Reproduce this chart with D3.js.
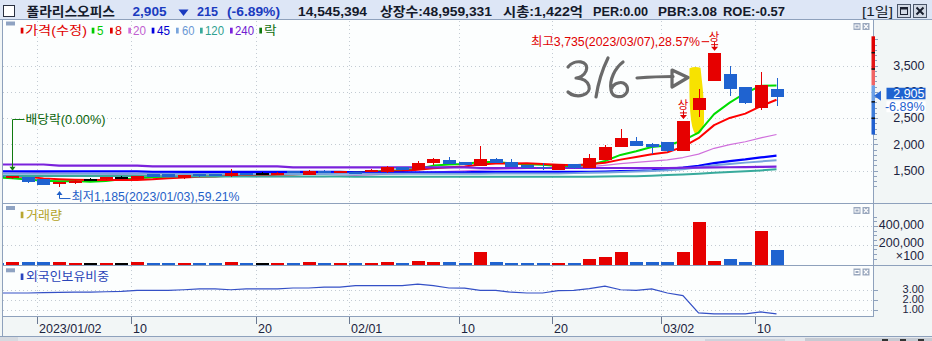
<!DOCTYPE html>
<html><head><meta charset="utf-8">
<script src="https://cdn.jsdelivr.net/npm/d3@7"></script>
<style>
html,body{margin:0;padding:0;background:#fff;overflow:hidden}
svg{display:block}
text{font-family:"Liberation Sans","Noto Sans CJK KR",sans-serif}
</style></head><body>
<svg id="c" width="932" height="341"></svg>
<script>
// ---------------- DATA ----------------
const dates = ["12/27","12/28","12/29","01/02","01/03","01/04","01/05","01/06","01/09","01/10","01/11","01/12","01/13","01/16","01/17","01/18","01/19","01/20","01/25","01/26","01/27","01/30","01/31","02/01","02/02","02/03","02/06","02/07","02/08","02/09","02/10","02/13","02/14","02/15","02/16","02/17","02/20","02/21","02/22","02/23","02/24","02/27","02/28","03/02","03/03","03/06","03/07","03/08","03/09","03/10","03/13"];
const open  = [1400,1355,1370,1330,1245,1260,1330,1335,1370,1345,1435,1430,1350,1425,1435,1390,1455,1445,1420,1495,1420,1495,1455,1470,1480,1470,1570,1510,1635,1700,1665,1590,1720,1670,1605,1565,1515,1620,1555,1700,1950,2060,2010,2045,1870,2650,3210,3340,3090,2695,3050];
const high  = [1420,1400,1375,1335,1290,1310,1365,1375,1395,1400,1440,1435,1410,1430,1440,1525,1460,1470,1480,1500,1510,1505,1500,1480,1520,1580,1575,1690,1740,1765,1670,1970,1740,1720,1610,1645,1630,1625,1815,1985,2290,2140,2015,2050,2435,3050,3735,3490,3090,3370,3255];
const low   = [1370,1340,1260,1220,1185,1250,1295,1325,1355,1340,1380,1380,1345,1385,1390,1385,1405,1420,1415,1445,1415,1455,1450,1425,1475,1460,1505,1505,1600,1620,1600,1585,1645,1570,1540,1510,1505,1535,1550,1695,1945,1960,1810,1860,1865,2525,3200,2920,2760,2650,2735];
const close = [1385,1395,1290,1225,1285,1300,1330,1370,1370,1395,1385,1385,1405,1390,1395,1455,1410,1445,1460,1450,1495,1460,1490,1430,1515,1570,1510,1650,1720,1625,1605,1720,1650,1575,1545,1550,1620,1545,1745,1950,2125,1970,1955,1870,2435,2875,3735,3045,2790,3120,2905];
const volume = [9000,15000,12000,14000,16000,9000,8000,10000,7000,11000,9000,8000,10000,7000,8000,14000,8000,6000,9000,8000,12000,8000,9000,7000,10000,16000,9000,22000,20000,11000,8000,119000,12000,6000,5000,6000,5000,5000,53000,74000,126000,21000,12000,12000,119000,442000,32000,53000,21000,347000,145454];
const ma5   = [1370,1350,1330,1305,1295,1299,1286,1302,1331,1353,1370,1381,1388,1392,1392,1406,1411,1419,1433,1444,1452,1462,1471,1465,1478,1493,1503,1535,1593,1615,1622,1664,1664,1635,1619,1608,1588,1567,1601,1682,1797,1867,1949,1974,2071,2221,2574,2792,2976,3113,3119];
const ma8   = [1395,1390,1375,1350,1335,1325,1320,1320,1321,1321,1333,1353,1368,1379,1387,1398,1403,1409,1418,1426,1438,1446,1458,1455,1468,1484,1490,1515,1543,1564,1578,1614,1631,1632,1636,1624,1611,1601,1619,1648,1707,1756,1808,1848,1949,2116,2364,2501,2584,2728,2847];
const ma20  = [1490,1480,1470,1460,1452,1445,1438,1430,1422,1415,1408,1402,1398,1394,1390,1388,1386,1384,1383,1382,1382,1385,1395,1405,1417,1430,1439,1453,1471,1482,1493,1510,1522,1532,1539,1544,1554,1559,1574,1599,1630,1656,1679,1701,1747,1812,1923,1993,2047,2121,2186];
const ma45  = [1485,1485,1485,1485,1485,1485,1485,1485,1485,1485,1475,1475,1475,1475,1475,1475,1475,1475,1475,1475,1475,1475,1475,1465,1465,1465,1465,1465,1465,1465,1465,1472,1472,1472,1472,1472,1472,1472,1472,1480,1488,1495,1505,1530,1555,1590,1642,1680,1711,1749,1782];
const ma60  = [1440,1440,1440,1440,1440,1440,1440,1440,1440,1440,1440,1440,1432,1432,1432,1432,1432,1432,1432,1432,1432,1432,1436,1436,1436,1436,1436,1436,1436,1436,1436,1436,1445,1445,1445,1445,1445,1450,1455,1462,1470,1480,1490,1505,1525,1560,1598,1625,1650,1673,1694];
const ma120 = [1395,1395,1395,1395,1395,1395,1395,1395,1395,1395,1395,1385,1385,1385,1385,1385,1385,1385,1385,1385,1385,1385,1385,1380,1380,1380,1380,1380,1380,1380,1380,1380,1380,1380,1380,1380,1380,1380,1380,1385,1390,1392,1400,1412,1425,1440,1458,1470,1485,1502,1522];
const ma240 = [1614,1614,1614,1614,1592,1592,1592,1592,1592,1592,1580,1580,1580,1580,1580,1580,1580,1580,1580,1560,1560,1560,1560,1560,1560,1560,1560,1560,1560,1560,1560,1548,1548,1548,1548,1548,1548,1548,1548,1548,1548,1548,1548,1548,1552,1555,1559,1562,1566,1569,1572];
const foreignRatio = [2.73,2.73,2.73,2.77,2.79,2.81,2.83,2.86,2.90,3.00,3.00,3.00,3.07,3.15,3.15,3.07,3.15,3.15,3.15,3.25,3.25,3.35,3.35,3.49,3.49,3.49,3.49,3.66,3.49,3.25,3.23,3.00,3.00,2.81,2.73,2.73,2.97,3.00,3.18,3.44,3.07,3.00,3.15,2.73,2.45,0.66,0.55,0.55,0.55,0.76,0.55];
const tickDates  = ["01/02","01/10","01/20","02/01","02/10","02/20","03/02","03/10"];
const tickLabels = ["2023/01/02","10","20","02/01","10","20","03/02","10"];
const priceTicks = [1500,2000,2500,3000,3500];
const priceTickLabels = ["1,500","2,000","2,500","3,000","3,500"];
const volumeTicks = [200000,400000];
const volumeTickLabels = ["200,000","400,000"];
const foreignTicks = [1,2,3];
const foreignTickLabels = ["1.00","2.00","3.00"];
const limitBands = [4056,3744,3432,3120,2808,2496,2184];
const limitColors = ["#e00000","#e41414","#f06464","#6ea2e6","#3c7bd9","#1f5fd0"];
const maList = [
  {label:"5",   values:ma5,   color:"#00dd00", w:2},
  {label:"8",   values:ma8,   color:"#ff0000", w:2},
  {label:"20",  values:ma20,  color:"#d070dc", w:1.2},
  {label:"45",  values:ma45,  color:"#0000ff", w:2.2},
  {label:"60",  values:ma60,  color:"#78a4dc", w:2},
  {label:"120", values:ma120, color:"#38aa9c", w:2},
  {label:"240", values:ma240, color:"#7a22dc", w:2.2}
];

// ---------------- LAYOUT ----------------
const svg = d3.select("#c");
const W = 932, H = 341, L = 3, R = 873;
const PT = 20, PB = 203.5, VT = 203.5, VB = 265, FT = 265, FB = 316.5, AB = 336.7;
const UP = "#e60000", DOWN = "#1f63d0";

const xS = d3.scalePoint().domain(dates).range([-3.3, 776.5]);
const yP = d3.scaleLinear().domain([1500, 3500]).range([170.5, 65.5]);
const yV = d3.scaleLinear().domain([0, 400000]).range([263.5, 226]);
const yF = d3.scaleLinear().domain([1, 3]).range([309.6, 290.4]);

function T(g, x, y, s, o = {}) {
  const t = g.append("text").attr("x", x).attr("y", y).text(s)
    .attr("font-size", o.size || 12).attr("fill", o.fill || "#1a2340")
    .attr("font-weight", o.weight || "normal")
    .attr("text-anchor", o.anchor || "start");
  if (o.family) t.attr("font-family", o.family);
  if (o.len) t.attr("textLength", o.len).attr("lengthAdjust", "spacingAndGlyphs");
  return t;
}

const defs = svg.append("defs");
[["cp", PT, PB], ["cv", VT, VB], ["cf", FT, FB]].forEach(([id, t, b]) => {
  defs.append("clipPath").attr("id", id).append("rect")
    .attr("x", L).attr("y", t).attr("width", R - L).attr("height", b - t);
});
defs.append("filter").attr("id", "pen").append("feGaussianBlur").attr("stdDeviation", 0.6);

// backgrounds
svg.append("rect").attr("width", W).attr("height", H).attr("fill", "#f2f6f6");
[[PT, PB], [VT, VB], [FT, FB]].forEach(([t, b]) => {
  svg.append("rect").attr("x", L).attr("y", t).attr("width", R - L).attr("height", b - t).attr("fill", "#fcfefe");
});

// gridlines
const grid = svg.append("g").attr("stroke", "#c3cbd3").attr("stroke-dasharray", "1,3")
  .attr("shape-rendering", "crispEdges");
tickDates.forEach(d => {
  const gx = Math.round(xS(d) - 6) + 0.5;
  [[PT, PB], [VT, VB], [FT, FB]].forEach(([t, b]) => {
    grid.append("line").attr("x1", gx).attr("x2", gx).attr("y1", t + 1).attr("y2", b);
  });
});
priceTicks.forEach(v => grid.append("line").attr("x1", L).attr("x2", R).attr("y1", Math.round(yP(v)) + 0.5).attr("y2", Math.round(yP(v)) + 0.5));
volumeTicks.forEach(v => grid.append("line").attr("x1", L).attr("x2", R).attr("y1", Math.round(yV(v)) + 0.5).attr("y2", Math.round(yV(v)) + 0.5));
foreignTicks.forEach(v => grid.append("line").attr("x1", L).attr("x2", R).attr("y1", Math.round(yF(v)) + 0.5).attr("y2", Math.round(yF(v)) + 0.5));

// ---------------- PRICE PANEL ----------------
const pg = svg.append("g").attr("clip-path", "url(#cp)");
const rows = dates.map((d, i) => ({ d, o: open[i], h: high[i], l: low[i], c: close[i], v: volume[i] }));
const col = r => r.c > r.o ? UP : (r.c < r.o ? DOWN : "#000");

// yellow highlight on 03/06
const hx = xS("03/06"), hi = dates.indexOf("03/06");
const ht = yP(high[hi]) - 22, hb = yP(low[hi]) + 18, hm = (ht + hb) / 2;
pg.append("path").attr("fill", "#f7e200")
  .attr("d", `M${hx-9},${ht+1} Q${hx-4},${ht-1} ${hx+2},${ht+0.5} L${hx+3},${ht+10} Q${hx+6},${hm} ${hx+5.5},${hb-12} Q${hx+4},${hb} ${hx-3},${hb} Q${hx-7},${hb-6} ${hx-8},${hb-20} Q${hx-9.5},${hm} ${hx-9},${ht+1} Z`);

// moving averages
maList.forEach(m => {
  pg.append("path").datum(m.values)
    .attr("fill", "none").attr("stroke", m.color).attr("stroke-width", m.w)
    .attr("stroke-linejoin", "round")
    .attr("d", d3.line().x((v, i) => xS(dates[i])).y(v => yP(v)));
});

// candles
const cg = pg.append("g").attr("shape-rendering", "crispEdges");
rows.forEach(r => {
  const cx = Math.round(xS(r.d)) + 0.5;
  cg.append("line").attr("x1", cx).attr("x2", cx).attr("y1", yP(r.h)).attr("y2", yP(r.l))
    .attr("stroke", col(r)).attr("stroke-width", 1);
  const top = yP(Math.max(r.o, r.c)), bot = yP(Math.min(r.o, r.c));
  cg.append("rect").attr("x", cx - 6.5).attr("width", 13)
    .attr("y", top).attr("height", Math.max(1.2, bot - top)).attr("fill", col(r));
});

// ex-dividend marker (12/28)
const ag = svg.append("g");
const exX = Math.round(xS("12/28")) + 0.5, exY = yP(high[1]) - 5;
ag.append("path").attr("fill", "none").attr("stroke", "#107a10").attr("stroke-width", 1)
  .attr("d", `M${exX + 12},119.5 H${exX} V${exY - 3}`);
ag.append("path").attr("fill", "#107a10").attr("d", `M${exX - 3},${exY - 4} H${exX + 3} L${exX},${exY} Z`);
T(ag, exX + 13, 123.5, "배당락(0.00%)", { fill: "#0a640a", size: 12, len: 80 });

// lowest marker (01/03)
const loI = dates.indexOf("01/03"), loX = Math.round(xS("01/03")) + 0.5, loY = yP(low[loI]) + 5;
ag.append("path").attr("fill", "none").attr("stroke", "#1f5fc8").attr("stroke-width", 1)
  .attr("d", `M${loX},${loY + 1} V${loY + 6.5} H${loX + 11}`);
ag.append("path").attr("fill", "#1f5fc8").attr("d", `M${loX - 3},${loY + 3} L${loX},${loY - 1} L${loX + 3},${loY + 3} Z`);
T(ag, loX + 12, 201, "최저1,185(2023/01/03),59.21%", { fill: "#1f5fc8", size: 12, len: 168 });

// highest marker (03/07)
const hiI = dates.indexOf("03/07"), hiX = xS("03/07"), hiY = yP(high[hiI]);
T(ag, hiX - 14, hiY - 7.5, "최고3,735(2023/03/07),28.57%", { fill: "#e00000", size: 12, len: 169, anchor: "end" });
ag.append("line").attr("x1", hiX - 12.5).attr("x2", hiX - 5).attr("y1", hiY - 11.5).attr("y2", hiY - 11.5).attr("stroke", "#e00000");
function upLimit(cx, yTop) {
  T(ag, cx, yTop - 12, "상", { fill: "#e00000", size: 11.5, anchor: "middle" });
  ag.append("line").attr("x1", Math.round(cx) + 0.5).attr("x2", Math.round(cx) + 0.5).attr("y1", yTop - 11).attr("y2", yTop - 3).attr("stroke", "#e00000");
  ag.append("line").attr("x1", cx - 3).attr("x2", cx + 4).attr("y1", yTop - 8.5).attr("y2", yTop - 8.5).attr("stroke", "#e00000");
  ag.append("path").attr("fill", "#e00000").attr("d", `M${cx - 3},${yTop - 6.5} H${cx + 4} L${cx + 0.5},${yTop - 2.5} Z`);
}
upLimit(hiX, hiY);
upLimit(xS("03/03"), yP(high[dates.indexOf("03/03")]));

// hand-drawn "3/6 ->" annotation
const hw = svg.append("g").attr("fill", "none").attr("stroke", "#6a6a6a").attr("stroke-width", 3.2)
  .attr("stroke-linecap", "round").attr("stroke-linejoin", "round").attr("filter", "url(#pen)");
const o = hx - 698.5;
hw.append("path").attr("d", `M${568+o},67 C${574+o},59 ${590+o},60 ${586+o},71 C${584+o},76 ${579+o},78 ${576+o},78 C${591+o},79 ${593+o},92 ${583+o},95 C${577+o},97 ${571+o},95 ${568+o},92`);
hw.append("path").attr("d", `M${608+o},58 C${602+o},70 ${598+o},84 ${596+o},97`);
hw.append("path").attr("d", `M${623+o},62 C${615+o},68 ${609+o},80 ${611+o},90 C${612+o},98 ${623+o},99 ${627+o},92 C${629+o},86 ${624+o},81 ${618+o},83 C${614+o},84 ${612+o},87 ${612+o},88`);
hw.append("path").attr("d", `M${637+o},78 C${650+o},77 ${662+o},76.5 ${673+o},76.5`);
hw.append("path").attr("d", `M${672+o},70 L${688+o},77.5 L${672+o},87 Z`);

// ---------------- VOLUME PANEL ----------------
const vg = svg.append("g").attr("clip-path", "url(#cv)").attr("shape-rendering", "crispEdges");
rows.forEach(r => {
  const cx = Math.round(xS(r.d)) + 0.5;
  const top = Math.min(yV(r.v), 263);
  vg.append("rect").attr("x", cx - 6.5).attr("width", 13).attr("y", top).attr("height", 264.6 - top).attr("fill", col(r));
});

// ---------------- FOREIGN PANEL ----------------
const fg = svg.append("g").attr("clip-path", "url(#cf)");
fg.append("path").datum(foreignRatio).attr("fill", "none").attr("stroke", "#3450c6").attr("stroke-width", 1.2)
  .attr("d", d3.line().x((v, i) => xS(dates[i])).y(v => yF(v)));

// ---------------- BORDERS ----------------
const bd = svg.append("g").attr("stroke", "#8ea1bc").attr("stroke-width", 1).attr("shape-rendering", "crispEdges");
bd.append("line").attr("x1", 2.5).attr("x2", 2.5).attr("y1", 19.5).attr("y2", AB);
bd.append("line").attr("x1", R + 0.5).attr("x2", R + 0.5).attr("y1", 19.5).attr("y2", FB);
bd.append("line").attr("x1", 2.5).attr("x2", W).attr("y1", 203.5).attr("y2", 203.5);
bd.append("line").attr("x1", 2.5).attr("x2", W).attr("y1", 265.5).attr("y2", 265.5);
bd.append("line").attr("x1", 2.5).attr("x2", R + 0.5).attr("y1", 316.5).attr("y2", 316.5);
bd.append("line").attr("x1", 0).attr("x2", W).attr("y1", 336.5).attr("y2", 336.5);

// bottom scroll strip
svg.append("rect").attr("x", 0).attr("y", 337).attr("width", W).attr("height", 4).attr("fill", "#e3e7ec");
svg.append("rect").attr("x", 0).attr("y", 337).attr("width", 18).attr("height", 4).attr("fill", "#d6dae0");
svg.append("rect").attr("x", 705).attr("y", 339).attr("width", 80).attr("height", 2).attr("fill", "#cdd3dc");
svg.append("rect").attr("x", 805).attr("y", 338).attr("width", 127).attr("height", 3).attr("fill", "#c6cbd3");
[882, 900, 918].forEach(bx => svg.append("rect").attr("x", bx).attr("y", 339).attr("width", 6).attr("height", 2).attr("fill", "#333"));

// ---------------- AXES ----------------
const ax = svg.append("g").attr("shape-rendering", "crispEdges").attr("stroke", "#8ea1bc");
d3.range(1200, 4001, 100).forEach(v => {
  const yy = Math.round(yP(v)) + 0.5;
  if (yy > PT + 2 && yy < PB - 1) ax.append("line").attr("x1", R).attr("x2", R + (v % 500 === 0 ? 5 : 3.5)).attr("y1", yy).attr("y2", yy);
});
d3.range(0, 500001, 50000).forEach(v => {
  const yy = Math.round(yV(v)) + 0.5;
  if (yy > VT + 2 && yy < VB - 1) ax.append("line").attr("x1", R).attr("x2", R + (v % 200000 === 0 ? 5 : 3.5)).attr("y1", yy).attr("y2", yy);
});
foreignTicks.forEach(v => {
  const yy = Math.round(yF(v)) + 0.5;
  ax.append("line").attr("x1", R).attr("x2", R + 5).attr("y1", yy).attr("y2", yy);
});
tickDates.forEach(d => {
  const gx = Math.round(xS(d) - 6) + 0.5;
  ax.append("line").attr("x1", gx).attr("x2", gx).attr("y1", FB).attr("y2", FB + 7).attr("stroke", "#6a7890");
});

const lab = svg.append("g");
priceTicks.forEach((v, i) => T(lab, 924.5, yP(v) + 4.3, priceTickLabels[i], { anchor: "end", size: 12.5, fill: "#1c2440" }));
volumeTicks.forEach((v, i) => T(lab, 924, yV(v) + 2.5, volumeTickLabels[i], { anchor: "end", size: 12.5, fill: "#1c2440" }));
T(lab, 924, 259.5, "×100", { anchor: "end", size: 12.5, fill: "#1c2440" });
foreignTicks.forEach((v, i) => T(lab, 924, yF(v) + 3, foreignTickLabels[i], { anchor: "end", size: 11, fill: "#1c2440" }));
tickDates.forEach((d, i) => T(lab, Math.round(xS(d) - 6) + 2, 332.5, tickLabels[i], { size: 12.5, fill: "#1c2440" }));

// price-limit band on axis
limitColors.forEach((c, i) => {
  svg.append("rect").attr("x", 871.5).attr("width", 3.5).attr("y", yP(limitBands[i])).attr("height", yP(limitBands[i + 1]) - yP(limitBands[i])).attr("fill", c);
});
[1, 2, 4, 5].forEach(i => svg.append("rect").attr("x", 871.5).attr("width", 3.5).attr("y", yP(limitBands[i]) - 0.75).attr("height", 1.5).attr("fill", "#111"));

// current price marker
const last = close[close.length - 1], lastY = yP(last);
svg.append("path").attr("fill", "#2a6ad6").attr("d", `M874,${lastY - 1} L881,${lastY - 6} L881,${lastY + 4} Z`);
svg.append("rect").attr("x", 886.5).attr("y", lastY - 9).attr("width", 39).attr("height", 11.5).attr("fill", "#1f63d0");
T(svg, 924.5, lastY + 1.3, d3.format(",")(last), { anchor: "end", size: 12.5, fill: "#fff" });
svg.append("rect").attr("x", 886.5).attr("y", lastY + 4.5).attr("width", 39).attr("height", 11).attr("fill", "#fff");
T(svg, 924.5, lastY + 14.3, "-6.89%", { anchor: "end", size: 12.5, fill: "#1f63d0" });

// ---------------- LEGENDS ----------------
const lg = svg.append("g");
[[21.5], [206], [268.3]].forEach(([yy]) => lg.append("rect").attr("x", 6).attr("y", yy).attr("width", 9).attr("height", 4).attr("fill", "#8fa3c2"));
const legendItems = [
  ["가격(수정)", "#e00000", "#e00000", 20.7, 25, 62],
  ["5", "#00cc00", "#00cc00", 91.7, 97, 6.5],
  ["8", "#e00000", "#e00000", 110, 115, 7],
  ["20", "#d070dc", "#c060d0", 128.3, 133, 13],
  ["45", "#0000e0", "#0000d0", 151.7, 157, 13],
  ["60", "#78a4dc", "#6a98d4", 176, 182, 12.5],
  ["120", "#38aa9c", "#2ea090", 200, 205, 19],
  ["240", "#7a22dc", "#7020d0", 230, 235, 19],
  ["락", "#107a10", "#107010", 259.3, 264, 12.7]
];
legendItems.forEach(([s, mc, tc, mx, tx, len]) => {
  lg.append("rect").attr("x", mx).attr("y", 27.7).attr("width", 2.7).attr("height", 5.8).attr("fill", mc);
  T(lg, tx, 35, s, { fill: tc, size: 12, len });
});
lg.append("rect").attr("x", 20.7).attr("y", 211.7).attr("width", 2.7).attr("height", 6.5).attr("fill", "#b8a630");
T(lg, 26, 219.5, "거래량", { fill: "#b4a42c", size: 12.5, len: 36 });
lg.append("rect").attr("x", 20.7).attr("y", 273.5).attr("width", 2.7).attr("height", 6.5).attr("fill", "#2a44c0");
T(lg, 26, 281.3, "외국인보유비중", { fill: "#2a44b8", size: 12.5, len: 83 });

// small panel buttons
[23, 207, 268.5].forEach(by => {
  [853.5, 862.5].forEach((bx, j) => {
    lg.append("rect").attr("x", bx).attr("y", by).attr("width", 7).attr("height", 7).attr("fill", "#9aa8be");
    if (j === 0) lg.append("rect").attr("x", bx + 1.5).attr("y", by + 2).attr("width", 4).attr("height", 3).attr("fill", "none").attr("stroke", "#fff").attr("stroke-width", 1);
    else lg.append("path").attr("d", `M${bx + 1.5},${by + 1.5} L${bx + 5.5},${by + 5.5} M${bx + 5.5},${by + 1.5} L${bx + 1.5},${by + 5.5}`).attr("stroke", "#fff").attr("stroke-width", 1.2);
  });
});

// ---------------- TITLE BAR ----------------
const tb = svg.append("g");
tb.append("rect").attr("x", 0).attr("y", 0).attr("width", W).attr("height", 19.5).attr("fill", "#dde6f6");
tb.append("line").attr("x1", 0).attr("x2", W).attr("y1", 19.5).attr("y2", 19.5).attr("stroke", "#8ea1bc").attr("shape-rendering", "crispEdges");
tb.append("rect").attr("x", 3.5).attr("y", 5.5).attr("width", 11).attr("height", 11).attr("fill", "#fff").attr("stroke", "#2a3040").attr("shape-rendering", "crispEdges");
const TF = "'Liberation Mono','DejaVu Sans Mono','Noto Sans CJK KR',monospace";
const titleParts = [
  ["폴라리스오피스", 26.5, 88.5, "#141a2a"],
  ["2,905", 132.5, 34, "#1a3bbf"],
  ["215", 197, 21, "#1a3bbf"],
  ["(-6.89%)", 227, 53, "#1a3bbf"],
  ["14,545,394", 298, 69, "#141a2a"],
  ["상장수:48,959,331", 380, 112, "#141a2a"],
  ["시총:1,422억", 503, 80, "#141a2a"],
  ["PER:0.00", 593, 55, "#141a2a"],
  ["PBR:3.08", 658, 59, "#141a2a"],
  ["ROE:-0.57", 723, 62, "#141a2a"]
];
titleParts.forEach(([s, x, len, c]) => T(tb, x, 15.5, s, { fill: c, size: 13, weight: "bold", len, family: TF }));
tb.append("path").attr("fill", "#1a3bbf").attr("d", "M178.5,9.5 H188.5 L183.5,16 Z");
T(tb, 862, 15.5, "[1일]", { fill: "#141a2a", size: 13, len: 31, family: TF });
[897, 913].forEach((bx, j) => {
  tb.append("rect").attr("x", bx + 0.5).attr("y", 4.5).attr("width", 13).attr("height", 13).attr("fill", "#d3dae6").attr("stroke", "#4a566a").attr("shape-rendering", "crispEdges");
  if (j === 0) tb.append("rect").attr("x", bx + 3.5).attr("y", 7.5).attr("width", 7).attr("height", 7).attr("fill", "none").attr("stroke", "#1a2030").attr("stroke-width", 1).attr("shape-rendering", "crispEdges");
  if (j === 0) tb.append("rect").attr("x", bx + 3.5).attr("y", 7.5).attr("width", 7).attr("height", 2).attr("fill", "#1a2030");
  if (j === 1) tb.append("path").attr("d", `M${bx + 3.5},${7.5} L${bx + 10.5},${14.5} M${bx + 10.5},${7.5} L${bx + 3.5},${14.5}`).attr("stroke", "#1a2030").attr("stroke-width", 2);
});
</script>
</body></html>
